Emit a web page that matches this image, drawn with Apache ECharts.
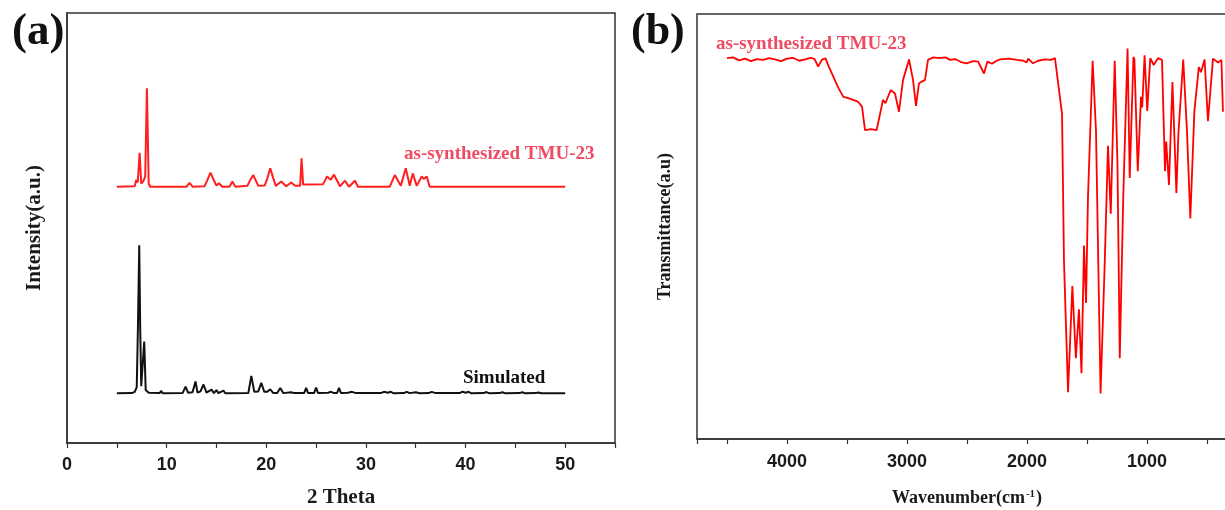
<!DOCTYPE html>
<html>
<head>
<meta charset="utf-8">
<script src="https://cdn.jsdelivr.net/npm/echarts@6/dist/echarts.min.js"></script>
<style>
  html, body { margin: 0; padding: 0; background: #fff; }
  #main { width: 1225px; height: 510px; }
</style>
</head>
<body>
<div id="main"></div>
<script>
/* XRD (a) and FT-IR (b) of TMU-23 */

// (a) as-synthesized pattern: [2theta, intensity (a.u.)]
const synthPattern = [
    [5.0, 59.6], [6.8, 59.7], [6.95, 61.2], [7.1, 60.6], [7.29, 67.5], [7.45, 60.3],
    [7.69, 61.0], [7.85, 62.0], [8.02, 82.5], [8.2, 60.3], [8.35, 59.6], [12.0, 59.6],
    [12.3, 60.5], [12.6, 59.6], [13.8, 59.7], [14.1, 61.2], [14.4, 62.9], [14.8, 60.8],
    [15.0, 59.9], [15.25, 60.4], [15.6, 59.6], [16.3, 59.6], [16.6, 60.8], [16.9, 59.6],
    [18.1, 59.8], [18.4, 61.2], [18.7, 62.3], [19.2, 59.8], [19.85, 59.9], [20.1, 61.5],
    [20.4, 63.9], [20.7, 61.6], [20.95, 59.8], [21.5, 60.8], [22.0, 59.7], [22.5, 60.6],
    [22.9, 59.8], [23.4, 59.8], [23.54, 66.2], [23.7, 60.1], [24.0, 60.1], [25.7, 60.2],
    [26.1, 62.0], [26.45, 61.2], [26.8, 62.4], [27.4, 59.7], [27.9, 61.0], [28.3, 59.6],
    [28.9, 61.0], [29.2, 59.6], [32.4, 59.6], [32.9, 62.3], [33.5, 59.8], [34.0, 63.9],
    [34.4, 59.8], [34.7, 62.7], [35.1, 59.8], [35.6, 62.0], [35.8, 61.4], [36.1, 62.0],
    [36.4, 59.6], [38.0, 59.6], [38.2, 59.9], [38.4, 59.6], [40.2, 59.6], [40.4, 60.0],
    [40.6, 59.6], [42.0, 59.6], [42.2, 60.0], [42.4, 59.6], [45.9, 59.6], [46.1, 60.0],
    [46.3, 59.6], [47.4, 59.6], [47.6, 59.9], [47.8, 59.6], [50.0, 59.6]
];

// (a) simulated pattern
const simPattern = [
    [5.0, 11.55], [6.5, 11.6], [6.8, 11.9], [7.0, 13.0], [7.12, 27.0], [7.25, 46.0],
    [7.35, 26.4], [7.45, 13.2], [7.62, 13.4], [7.75, 23.6], [7.9, 12.3], [8.2, 11.7],
    [9.3, 11.6], [9.46, 12.1], [9.6, 11.55], [11.6, 11.6], [11.9, 13.1], [12.15, 11.7],
    [12.6, 11.8], [12.9, 14.3], [13.1, 11.7], [13.4, 12.0], [13.7, 13.6], [14.0, 11.7],
    [14.5, 12.4], [14.75, 11.6], [15.0, 12.3], [15.2, 11.6], [15.7, 12.2], [15.9, 11.55],
    [18.2, 11.6], [18.5, 15.6], [18.8, 11.9], [19.2, 12.0], [19.5, 14.0], [19.8, 11.9],
    [20.1, 11.9], [20.4, 12.5], [20.7, 11.6], [21.1, 11.6], [21.4, 12.8], [21.7, 11.6],
    [22.5, 11.8], [22.8, 11.6], [23.8, 11.6], [24.0, 12.8], [24.2, 11.6], [24.8, 11.6],
    [25.0, 12.9], [25.2, 11.6], [26.2, 11.7], [26.5, 11.9], [26.8, 11.6], [27.1, 11.6],
    [27.3, 12.8], [27.5, 11.6], [28.2, 11.7], [28.6, 11.9], [29.0, 11.6], [31.5, 11.6],
    [31.8, 11.9], [32.2, 11.7], [32.5, 11.9], [32.8, 11.55], [33.8, 11.6], [34.1, 11.9],
    [34.4, 11.6], [35.0, 11.8], [35.4, 11.55], [36.3, 11.6], [36.6, 11.9], [37.0, 11.6],
    [39.4, 11.6], [39.7, 11.95], [40.0, 11.7], [40.3, 11.9], [40.6, 11.55], [41.8, 11.6],
    [42.1, 11.85], [42.4, 11.55], [43.4, 11.6], [43.7, 11.8], [44.0, 11.55], [45.4, 11.6],
    [45.7, 11.8], [46.0, 11.55], [47.0, 11.6], [47.3, 11.75], [47.6, 11.55], [50.0, 11.55]
];

// (b) IR spectrum: [wavenumber, transmittance (a.u.)]
const irSpectrum = [
    [4500, 89.6], [4450, 89.8], [4400, 89.1], [4350, 89.5], [4300, 88.9], [4250, 89.4],
    [4200, 89.2], [4150, 89.6], [4100, 89.3], [4050, 88.9], [4000, 89.5], [3950, 89.7],
    [3900, 89.0], [3850, 89.3], [3800, 89.7], [3770, 89.4], [3740, 87.6], [3710, 89.2],
    [3680, 89.6], [3650, 87.5], [3615, 85.3], [3570, 82.5], [3530, 80.5], [3490, 80.2],
    [3450, 79.8], [3410, 79.4], [3375, 78.2], [3350, 72.7], [3300, 72.9], [3253, 72.7],
    [3200, 79.8], [3180, 79.0], [3136, 82.1], [3100, 81.3], [3067, 77.0], [3033, 84.5],
    [2983, 89.3], [2950, 84.5], [2925, 78.4], [2900, 83.7], [2850, 84.5], [2825, 89.2],
    [2780, 89.8], [2730, 89.6], [2680, 89.8], [2640, 89.2], [2600, 89.4], [2550, 88.7],
    [2503, 88.4], [2450, 88.9], [2408, 88.8], [2358, 86.0], [2330, 88.8], [2292, 88.3],
    [2260, 88.9], [2225, 89.3], [2150, 89.5], [2080, 89.2], [2030, 89.0], [2003, 88.6],
    [1990, 89.5], [1950, 88.4], [1908, 89.0], [1850, 89.3], [1800, 89.2], [1767, 89.6],
    [1753, 90.0], [1708, 76.5], [1692, 42.0], [1658, 11.0], [1622, 36.0], [1593, 19.0],
    [1567, 30.5], [1546, 15.5], [1525, 45.5], [1508, 32.0], [1492, 56.7], [1453, 89.0],
    [1425, 72.5], [1387, 10.7], [1353, 40.8], [1325, 69.0], [1302, 53.0], [1269, 89.0],
    [1246, 64.5], [1227, 19.0], [1198, 56.7], [1162, 91.9], [1144, 61.4], [1113, 89.9],
    [1105, 89.4], [1077, 63.0], [1050, 80.5], [1040, 78.0], [1020, 90.3], [998, 77.2],
    [973, 89.6], [944, 88.0], [908, 89.6], [875, 89.2], [850, 63.0], [840, 70.0],
    [817, 59.8], [788, 84.0], [755, 57.9], [738, 72.0], [698, 89.3], [667, 72.5],
    [639, 51.9], [605, 77.2], [568, 87.5], [550, 86.3], [520, 89.3], [492, 74.8],
    [450, 89.5], [408, 88.6], [380, 89.2], [367, 77.0]
];

const sampleName = 'as-synthesized TMU-23';
const simName = 'Simulated';

const frameColor = '#333';
const serif = '"Liberation Serif", "DejaVu Serif", serif';
const sans = '"Liberation Sans", Arial, sans-serif';

const chart = echarts.init(document.getElementById('main'));

const tickLabel = {
    fontSize: 18, fontWeight: 'bold', color: '#1a1a1a', fontFamily: sans
};
const axisName = {
    fontSize: 21, fontWeight: 'bold', color: '#1a1a1a', fontFamily: serif
};

chart.setOption({
    animation: false,
    grid: [
        { left: 67, right: 610, top: 13, bottom: 67, outerBoundsMode: 'none', show: true, borderColor: frameColor, borderWidth: 1.5 },
        { left: 697, right: -42, top: 14, bottom: 71, outerBoundsMode: 'none', show: true, borderColor: frameColor, borderWidth: 1.5 }
    ],
    xAxis: [
        {
            gridIndex: 0, type: 'value', min: 0, max: 55, interval: 5,
            axisLine: { lineStyle: { color: frameColor, width: 1.5 } },
            axisTick: { length: 5, lineStyle: { color: frameColor, width: 1.2 } },
            axisLabel: Object.assign({ margin: 13, formatter: v => (v % 10 === 0 ? v : '') }, tickLabel),
            splitLine: { show: false },
            name: '2 Theta', nameLocation: 'middle', nameGap: 44, nameTextStyle: axisName
        },
        {
            gridIndex: 1, type: 'value', min: 0, max: 4750, interval: 500, inverse: true,
            axisLine: { lineStyle: { color: frameColor, width: 1.5 } },
            axisTick: { length: 5, lineStyle: { color: frameColor, width: 1.2 } },
            axisLabel: Object.assign({ margin: 14, formatter: v => (v % 1000 === 0 && v > 0 ? v : '') }, tickLabel),
            splitLine: { show: false },
            name: 'Wavenumber(cm{sup|-1})', nameLocation: 'middle', nameGap: 50,
            nameTextStyle: Object.assign({}, axisName, {
                fontSize: 18,
                padding: [0, 30, 0, 0],
                rich: {
                    sup: { fontSize: 11, fontWeight: 'bold', fontFamily: serif, color: '#1a1a1a', verticalAlign: 'top', padding: [0, 1, 8, 1] }
                }
            })
        }
    ],
    yAxis: [
        {
            gridIndex: 0, type: 'value', min: 0, max: 100,
            axisLine: { show: true, lineStyle: { color: frameColor, width: 1.5 } },
            axisTick: { show: false }, axisLabel: { show: false }, splitLine: { show: false },
            name: 'Intensity(a.u.)', nameLocation: 'middle', nameGap: 22, nameRotate: 90,
            nameTextStyle: axisName
        },
        {
            gridIndex: 1, type: 'value', min: 0, max: 100,
            axisLine: { show: true, lineStyle: { color: frameColor, width: 1.5 } },
            axisTick: { show: false }, axisLabel: { show: false }, splitLine: { show: false },
            name: 'Transmittance(a.u)', nameLocation: 'middle', nameGap: 23, nameRotate: 90,
            nameTextStyle: Object.assign({}, axisName, { fontSize: 18 })
        }
    ],
    series: [
        {
            name: sampleName, type: 'line', xAxisIndex: 0, yAxisIndex: 0,
            data: synthPattern, showSymbol: false,
            lineStyle: { color: '#ff1f1f', width: 2 }
        },
        {
            name: simName, type: 'line', xAxisIndex: 0, yAxisIndex: 0,
            data: simPattern, showSymbol: false,
            lineStyle: { color: '#111', width: 2 }
        },
        {
            name: sampleName, type: 'line', xAxisIndex: 1, yAxisIndex: 1,
            data: irSpectrum, showSymbol: false,
            lineStyle: { color: '#ff0000', width: 1.8 }
        }
    ],
    graphic: [
        { type: 'text', left: 12, top: 10, style: { text: '(a)', font: 'bold 45px ' + serif, fill: '#111' } },
        { type: 'text', left: 631, top: 11, style: { text: '(b)', font: 'bold 44px ' + serif, fill: '#111' } },
        { type: 'text', left: 404, top: 145, style: { text: sampleName, font: 'bold 19px ' + serif, fill: '#ef4c63' } },
        { type: 'text', left: 463, top: 369, style: { text: simName, font: 'bold 19px ' + serif, fill: '#111' } },
        { type: 'text', left: 716, top: 35, style: { text: sampleName, font: 'bold 19px ' + serif, fill: '#ef4c63' } }
    ]
});
</script>
</body>
</html>
